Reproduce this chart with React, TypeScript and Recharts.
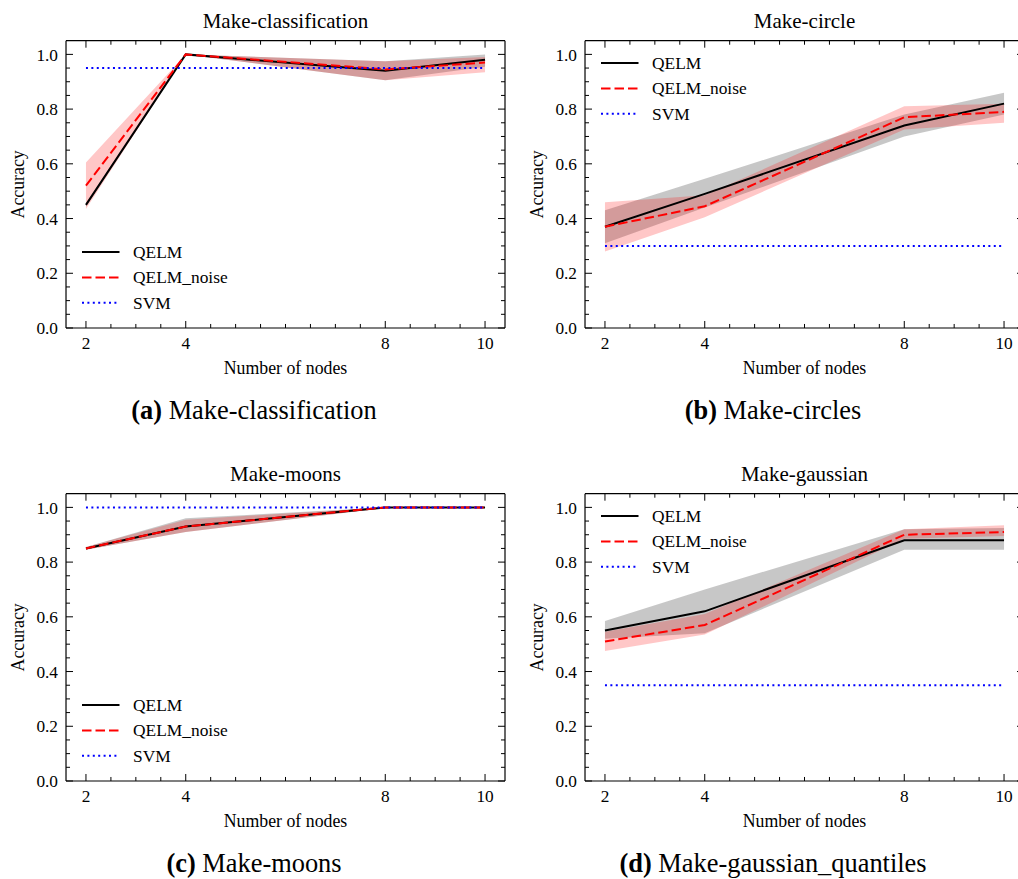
import React from 'react';
import { ComposedChart, Line, Area, XAxis, YAxis, Legend } from 'recharts';

// x positions (number of nodes) and tick marks
const nodes = [2, 4, 8, 10];
const xMajorTicks = [2, 4, 8, 10];
const xMinorTicks = [2.5, 3, 3.5, 4.5, 5, 5.5, 6, 6.5, 7, 7.5, 8.5, 9, 9.5];
const yMajorTicks = [0, 0.2, 0.4, 0.6, 0.8, 1.0];
const yMinorTicks = [0.05, 0.1, 0.15, 0.25, 0.3, 0.35, 0.45, 0.5, 0.55, 0.65, 0.7, 0.75, 0.85, 0.9, 0.95];
const seriesNames = ['QELM', 'QELM_noise', 'SVM'];

// (a) Make-classification
const clsQelm = [0.45, 1.0, 0.94, 0.98];
const clsQelmLo = [0.443, 1.0, 0.905, 0.955];
const clsQelmHi = [0.457, 1.0, 0.975, 1.0];
const clsNoise = [0.52, 1.0, 0.945, 0.97];
const clsNoiseLo = [0.435, 1.0, 0.905, 0.935];
const clsNoiseHi = [0.605, 1.0, 0.975, 0.99];
const clsSvm = 0.95;

// (b) Make-circles
const cirQelm = [0.37, 0.49, 0.74, 0.82];
const cirQelmLo = [0.31, 0.44, 0.7, 0.78];
const cirQelmHi = [0.43, 0.545, 0.78, 0.86];
const cirNoise = [0.37, 0.445, 0.77, 0.79];
const cirNoiseLo = [0.28, 0.405, 0.725, 0.75];
const cirNoiseHi = [0.46, 0.485, 0.81, 0.82];
const cirSvm = 0.3;

// (c) Make-moons
const moonQelm = [0.85, 0.93, 1.0, 1.0];
const moonQelmLo = [0.845, 0.91, 0.998, 1.0];
const moonQelmHi = [0.855, 0.96, 1.0, 1.0];
const moonNoise = [0.85, 0.93, 1.0, 1.0];
const moonNoiseLo = [0.845, 0.91, 0.998, 1.0];
const moonNoiseHi = [0.855, 0.955, 1.0, 1.0];
const moonSvm = 1.0;

// (d) Make-gaussian_quantiles
const gauQelm = [0.55, 0.62, 0.88, 0.88];
const gauQelmLo = [0.52, 0.54, 0.845, 0.845];
const gauQelmHi = [0.585, 0.7, 0.92, 0.925];
const gauNoise = [0.51, 0.57, 0.9, 0.91];
const gauNoiseLo = [0.475, 0.535, 0.885, 0.895];
const gauNoiseHi = [0.545, 0.61, 0.92, 0.935];
const gauSvm = 0.35;

const buildRows = (q, qLo, qHi, nz, nzLo, nzHi, svm) =>
  nodes.map((n, i) => ({
    n,
    qelm: q[i],
    qelmBand: [qLo[i], qHi[i]],
    noise: nz[i],
    noiseBand: [nzLo[i], nzHi[i]],
    svm,
  }));

const FONT = '"Liberation Serif", "DejaVu Serif", serif';
const W = 520;
const H = 440;
const PLOT = { left: 66, top: 40.7, right: 505, bottom: 328 };
const MARGIN = { left: PLOT.left, top: PLOT.top, right: W - PLOT.right, bottom: H - PLOT.bottom };
const X_DOMAIN = [1.6, 10.4];
const Y_DOMAIN = [0, 1.05];
const THIN = 0.01; // axes need a non-zero size to be drawn

const spine = { stroke: '#000', strokeWidth: 1.2 };
const tickLn = { stroke: '#000', strokeWidth: 1 };
const noTick = () => <g />;
const tickText = { fill: '#000', fontSize: 17.3, fontFamily: FONT };

const lineStyles = [
  { color: '#000000', dash: undefined },
  { color: '#ff0000', dash: '9.5 4' },
  { color: '#0000ff', dash: '2 3.4' },
];

const LegendBox = () => (
  <svg width={190} height={76} style={{ display: 'block', overflow: 'visible' }}>
    {seriesNames.map((name, i) => {
      const cy = 12 + i * 25.4;
      return (
        <g key={name}>
          <line x1={0} x2={37.5} y1={cy} y2={cy} stroke={lineStyles[i].color} strokeWidth={2}
            strokeDasharray={lineStyles[i].dash} />
          <text x={51} y={cy + 5.8} fontSize={17.4} fontFamily={FONT} fill="#000">{name}</text>
        </g>
      );
    })}
  </svg>
);

const Panel = ({ x, y, title, letter, caption, rows, legendTop }) => (
  <div style={{ position: 'absolute', left: x, top: y, width: W, height: H }}>
    <ComposedChart width={W} height={H} data={rows} margin={MARGIN}>
      <XAxis xAxisId="xl" orientation="bottom" type="number" dataKey="n" domain={X_DOMAIN} allowDataOverflow
        ticks={xMajorTicks} interval={0} height={THIN} tickSize={0} tickMargin={9} tickLine={false}
        axisLine={spine} tick={tickText} />
      <XAxis xAxisId="xb1" orientation="bottom" type="number" dataKey="n" domain={X_DOMAIN} allowDataOverflow
        ticks={xMajorTicks} interval={0} height={THIN} mirror tickSize={7} tickLine={tickLn} axisLine={false} tick={noTick} />
      <XAxis xAxisId="xb2" orientation="bottom" type="number" dataKey="n" domain={X_DOMAIN} allowDataOverflow
        ticks={xMinorTicks} interval={0} height={THIN} mirror tickSize={4} tickLine={tickLn} axisLine={false} tick={noTick} />
      <XAxis xAxisId="xt1" orientation="top" type="number" dataKey="n" domain={X_DOMAIN} allowDataOverflow
        ticks={xMajorTicks} interval={0} height={THIN} mirror tickSize={7} tickLine={tickLn} axisLine={spine} tick={noTick} />
      <XAxis xAxisId="xt2" orientation="top" type="number" dataKey="n" domain={X_DOMAIN} allowDataOverflow
        ticks={xMinorTicks} interval={0} height={THIN} mirror tickSize={4} tickLine={tickLn} axisLine={false} tick={noTick} />
      <YAxis yAxisId="yl" orientation="left" type="number" domain={Y_DOMAIN} allowDataOverflow
        ticks={yMajorTicks} interval={0} width={THIN} tickSize={0} tickMargin={8} tickLine={false}
        axisLine={spine} tick={tickText} tickFormatter={(v) => v.toFixed(1)} />
      <YAxis yAxisId="yl1" orientation="left" type="number" domain={Y_DOMAIN} allowDataOverflow
        ticks={yMajorTicks} interval={0} width={THIN} mirror tickSize={7} tickLine={tickLn} axisLine={false} tick={noTick} />
      <YAxis yAxisId="yl2" orientation="left" type="number" domain={Y_DOMAIN} allowDataOverflow
        ticks={yMinorTicks} interval={0} width={THIN} mirror tickSize={4} tickLine={tickLn} axisLine={false} tick={noTick} />
      <YAxis yAxisId="yr1" orientation="right" type="number" domain={Y_DOMAIN} allowDataOverflow
        ticks={yMajorTicks} interval={0} width={THIN} mirror tickSize={7} tickLine={tickLn} axisLine={spine} tick={noTick} />
      <YAxis yAxisId="yr2" orientation="right" type="number" domain={Y_DOMAIN} allowDataOverflow
        ticks={yMinorTicks} interval={0} width={THIN} mirror tickSize={4} tickLine={tickLn} axisLine={false} tick={noTick} />

      <Area xAxisId="xl" yAxisId="yl" type="linear" dataKey="qelmBand" stroke="none" fill="#000000"
        fillOpacity={0.22} isAnimationActive={false} legendType="none" dot={false} activeDot={false} />
      <Area xAxisId="xl" yAxisId="yl" type="linear" dataKey="noiseBand" stroke="none" fill="#ff0000"
        fillOpacity={0.22} isAnimationActive={false} legendType="none" dot={false} activeDot={false} />
      <Line xAxisId="xl" yAxisId="yl" type="linear" dataKey="qelm" name={seriesNames[0]} stroke={lineStyles[0].color}
        strokeWidth={2} dot={false} activeDot={false} isAnimationActive={false} />
      <Line xAxisId="xl" yAxisId="yl" type="linear" dataKey="noise" name={seriesNames[1]} stroke={lineStyles[1].color}
        strokeWidth={2} strokeDasharray={lineStyles[1].dash} dot={false} activeDot={false} isAnimationActive={false} />
      <Line xAxisId="xl" yAxisId="yl" type="linear" dataKey="svm" name={seriesNames[2]} stroke={lineStyles[2].color}
        strokeWidth={2} strokeDasharray={lineStyles[2].dash} dot={false} activeDot={false} isAnimationActive={false} />

      <Legend layout="vertical" align="center" verticalAlign="middle" content={() => <LegendBox />}
        wrapperStyle={{ left: 81.5, top: legendTop ? 50.9 : 240, width: 190, height: 76 }} />
    </ComposedChart>
    <svg width={W} height={H} style={{ position: 'absolute', left: 0, top: 0, pointerEvents: 'none' }}
      fontFamily={FONT} fill="#000">
      <text x={(PLOT.left + PLOT.right) / 2} y={28} textAnchor="middle" fontSize={21}>{title}</text>
      <text x={(PLOT.left + PLOT.right) / 2} y={374} textAnchor="middle" fontSize={17.8}>Number of nodes</text>
      <text transform={`translate(23.5,${(PLOT.top + PLOT.bottom) / 2}) rotate(-90)`} textAnchor="middle"
        fontSize={17.8}>Accuracy</text>
      <text x={254} y={418.5} textAnchor="middle" fontSize={26.4}>
        <tspan fontWeight="bold">({letter})</tspan>{' ' + caption}
      </text>
    </svg>
  </div>
);

export default function App() {
  return (
    <div style={{ position: 'absolute', left: 0, top: 0, width: 1018, height: 879, overflow: 'hidden',
      background: '#fff', fontFamily: FONT }}>
      <Panel x={0} y={0} title="Make-classification" letter="a" caption="Make-classification"
        rows={buildRows(clsQelm, clsQelmLo, clsQelmHi, clsNoise, clsNoiseLo, clsNoiseHi, clsSvm)} legendTop={false} />
      <Panel x={519} y={0} title="Make-circle" letter="b" caption="Make-circles"
        rows={buildRows(cirQelm, cirQelmLo, cirQelmHi, cirNoise, cirNoiseLo, cirNoiseHi, cirSvm)} legendTop />
      <Panel x={0} y={453} title="Make-moons" letter="c" caption="Make-moons"
        rows={buildRows(moonQelm, moonQelmLo, moonQelmHi, moonNoise, moonNoiseLo, moonNoiseHi, moonSvm)} legendTop={false} />
      <Panel x={519} y={453} title="Make-gaussian" letter="d" caption="Make-gaussian_quantiles"
        rows={buildRows(gauQelm, gauQelmLo, gauQelmHi, gauNoise, gauNoiseLo, gauNoiseHi, gauSvm)} legendTop />
    </div>
  );
}
